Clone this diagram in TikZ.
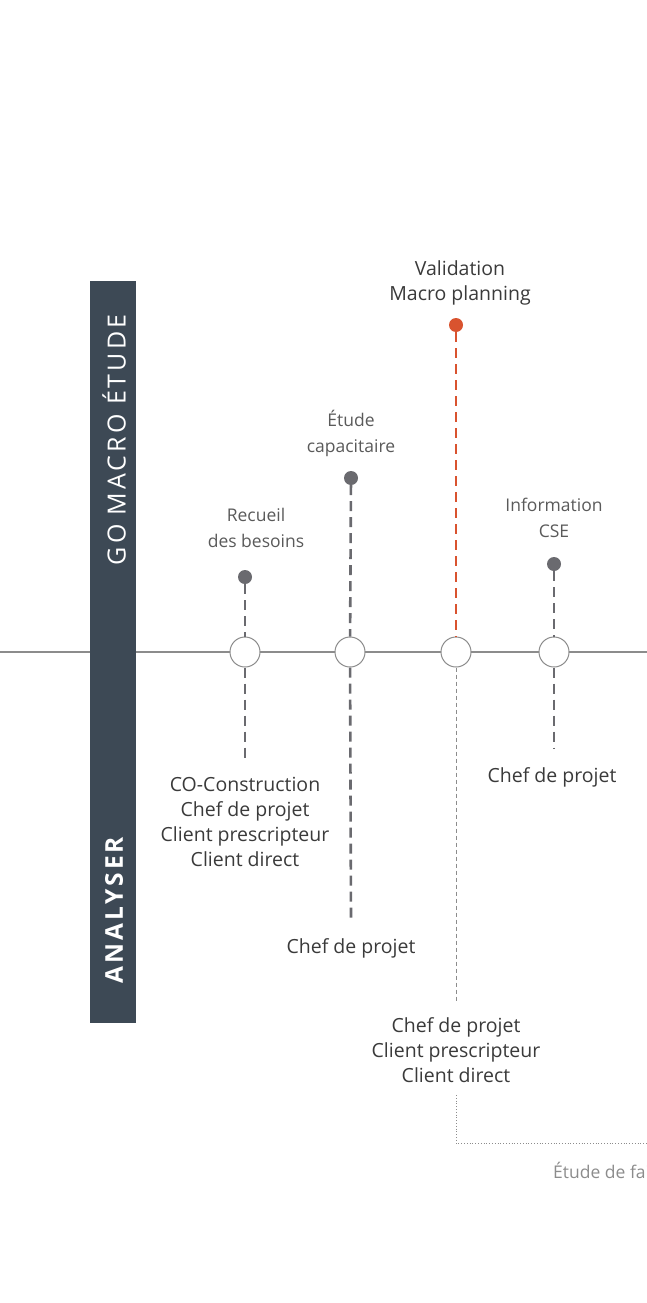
\documentclass[tikz,border=0pt]{standalone}
\usepackage{fontspec}
\setmainfont{Open Sans}
\newfontfamily\barfont[LetterSpace=12]{Open Sans}
\usetikzlibrary{positioning}

\definecolor{barre}{HTML}{3D4955}
\definecolor{texte}{HTML}{3A3A3A}
\definecolor{texteclair}{HTML}{5A5A5A}
\definecolor{pointgris}{HTML}{6A6A6F}
\definecolor{pointrouge}{HTML}{D9532F}
\definecolor{trait}{HTML}{8C8C8C}

\tikzset{
  jalon/.style={circle,draw=trait,fill=white,line width=1pt,minimum size=30pt,inner sep=0pt},
  point/.style={circle,fill=pointgris,minimum size=14pt,inner sep=0pt},
  pointr/.style={point,fill=pointrouge},
  tige/.style={draw=pointgris,line width=2.6pt,dash pattern=on 10pt off 6pt},
  tiger/.style={tige,draw=pointrouge},
  tigefine/.style={draw=trait,line width=1pt,dash pattern=on 4pt off 3pt},
  titre/.style={align=center,text=texteclair,font=\fontsize{17.5}{26}\selectfont,inner sep=0pt},
  acteurs/.style={align=center,text=texte,font=\fontsize{19.5}{25}\selectfont,inner sep=0pt},
  bandeau/.style={text=white,rotate=90,inner sep=0pt},
}

\begin{document}
\begin{tikzpicture}[x=1pt,y=-1pt]
\useasboundingbox (0,0) rectangle (647,1303);

\draw[trait,line width=1.2pt] (0,652) -- (647,652);

% bandeau
\fill[barre] (90,281) rectangle (136,1023);
\node[bandeau,font=\barfont\fontsize{25}{25}\selectfont] (go) at (114,440) {GO MACRO ÉTUDE};
\node[bandeau,font=\barfont\bfseries\fontsize{24.5}{25}\selectfont] (an) at (114,910) {ANALYSER};

% jalons sur la ligne
\def\jalons{1/245,2/350,3/456,4/554}
\foreach \i / \x in \jalons
  \node [jalon] (c\i) at (\x,652) {};

\node [point] (p1) at (245,577) {};
\node [point] (p2) at (351,478) {};
\node [pointr] (p3) at (456,325) {};
\node [point] (p4) at (554,564) {};

\node [titre,above=22pt of p1,xshift=11pt] (h1) {Recueil\\des besoins};
\node [titre,above=14pt of p2] (h2) {Étude\\capacitaire};
\node [titre,above=12pt of p3,xshift=4pt,text=texte,font=\fontsize{19.5}{25}\selectfont] (h3) {Validation\\Macro planning};
\node [titre,above=19pt of p4] (h4) {Information\\CSE};

\draw[tige] (p1) -- (c1);
\draw[tige] (p2) -- (c2);
\draw[tiger] (p3) -- (c3);
\draw[tige] (p4) -- (c4);

% vers le bas
\coordinate (b1) at (245,762);
\coordinate (b2) at (351,922);
\coordinate (b3) at (456,1002);
\coordinate (b4) at (554,748);
\draw[tige] (c1) -- (b1);
\draw[tige] (c2) -- (b2);
\draw[tigefine] (c3) -- (b3);
\draw[tige] (c4) -- (b4);

\node [acteurs,below=15pt of b1] (a1) {CO-Construction\\Chef de projet\\Client prescripteur\\Client direct};
\node [acteurs,below=16pt of b2] (a2) {Chef de projet};
\node [acteurs,below=15pt of b3] (a3) {Chef de projet\\Client prescripteur\\Client direct};
\node [acteurs,below=19pt of b4,xshift=-2pt] (a4) {Chef de projet};

% suite
\coordinate (s1) at (456,1095);
\coordinate (s2) at (456,1143);
\coordinate (s3) at (647,1143);
\draw[trait,line width=0.8pt,dotted] (s1) -- (s2) -- (s3);
\node [titre,anchor=west,text=trait] (suite) at (553,1170) {Étude de faisabilité};

\end{tikzpicture}
\end{document}
